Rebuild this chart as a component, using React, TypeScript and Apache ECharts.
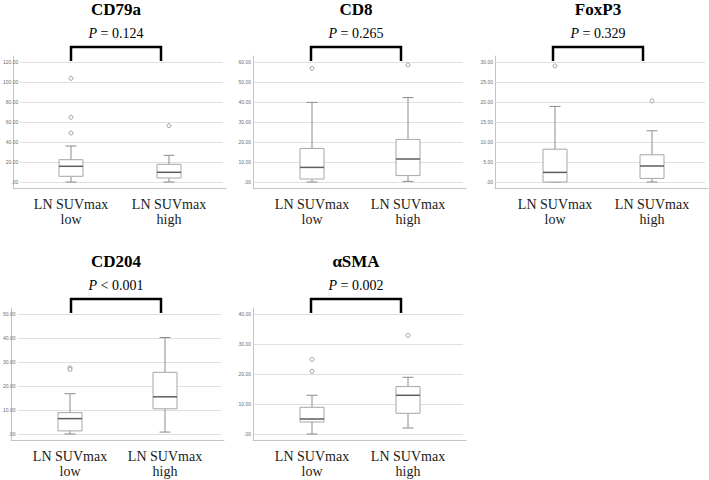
import React, { useEffect, useRef } from 'react';
import * as echarts from 'echarts';

// ---------- data ----------
const categories = ['LN SUVmax\nlow', 'LN SUVmax\nhigh'];
const markers = ['CD79a', 'CD8', 'FoxP3', 'CD204', 'αSMA'];
const pValues = ['= 0.124', '= 0.265', '= 0.329', '< 0.001', '= 0.002'];
const axisMax = [120, 60, 30, 50, 40];
const axisStep = [20, 10, 5, 10, 10];

// [min, Q1, median, Q3, max] for low, high
const cd79aBox = [[0, 5.7, 15.7, 22.3, 36], [0, 4, 9.7, 17.7, 26.7]];
const cd8Box = [[0, 1.5, 7.3, 16.8, 39.8], [0.3, 3.2, 11.5, 21.3, 42.2]];
const foxp3Box = [[0, 0, 2.4, 8.2, 18.9], [0, 0.9, 4, 6.8, 12.8]];
const cd204Box = [[0, 1.3, 6.4, 8.9, 16.8], [0.8, 10.5, 15.5, 25.7, 40.2]];
const asmaBox = [[0, 4, 5, 8.9, 12.9], [2, 6.9, 12.9, 15.8, 18.9]];

// [category index, value]
const cd79aOut = [[0, 49], [0, 64.7], [0, 103.7], [1, 56.3]];
const cd8Out = [[0, 56.8], [1, 58.5]];
const foxp3Out = [[0, 29], [1, 20.3]];
const cd204Out = [[0, 27.6], [0, 26.9]];
const asmaOut = [[0, 20.9], [0, 24.9], [1, 32.9]];

const boxes = [cd79aBox, cd8Box, foxp3Box, cd204Box, asmaBox];
const outliers = [cd79aOut, cd8Out, foxp3Out, cd204Out, asmaOut];

// ---------- layout ----------
const layout = [
  { ox: 0, oy: 0, ax: 13, c1: 71, c2: 169 },
  { ox: 240, oy: 0, ax: 13, c1: 72, c2: 168 },
  { ox: 482, oy: 0, ax: 13, c1: 73, c2: 170 },
  { ox: 0, oy: 252, ax: 11, c1: 70, c2: 165 },
  { ox: 240, oy: 252, ax: 13, c1: 72, c2: 168 },
];

const SERIF = '"Liberation Serif", "Times New Roman", serif';

function buildOption() {
  const grid: any[] = [];
  const xAxis: any[] = [];
  const yAxis: any[] = [];
  const series: any[] = [];
  const graphic: any[] = [];

  markers.forEach((name, i) => {
    const L = layout[i];
    const top = L.oy + 62;
    const gFrame = i * 3, gLines = i * 3 + 1, gData = i * 3 + 2;

    // frame (axis lines)
    grid.push({ left: L.ox + L.ax, top: top - 6, width: 213, height: 132 });
    xAxis.push({
      type: 'value', gridIndex: gFrame, min: 0, max: 1,
      axisLine: { show: true, onZero: false, lineStyle: { color: '#c4c4c4', width: 1 } },
      axisTick: { show: false }, axisLabel: { show: false }, splitLine: { show: false },
    });
    yAxis.push({
      type: 'value', gridIndex: gFrame, min: 0, max: 1,
      axisLine: { show: true, onZero: false, lineStyle: { color: '#c4c4c4', width: 1 } },
      axisTick: { show: false }, axisLabel: { show: false }, splitLine: { show: false },
    });

    // gridlines + tick labels
    grid.push({ left: L.ox + L.ax, top, width: 210, height: 120 });
    xAxis.push({ type: 'value', gridIndex: gLines, min: 0, max: 1, show: false });
    yAxis.push({
      type: 'value', gridIndex: gLines, min: 0, max: axisMax[i], interval: axisStep[i],
      axisLine: { show: false }, axisTick: { show: false },
      splitLine: { show: true, lineStyle: { color: '#e0e0e0', width: 1 } },
      axisLabel: {
        fontSize: 5, color: '#6e6e6e', margin: 2, fontFamily: 'Liberation Sans, Arial, sans-serif',
        formatter: (v: number) => (v === 0 ? '.00' : v.toFixed(2)),
      },
    });

    // data
    const half = (L.c2 - L.c1) / 2;
    grid.push({ left: L.ox + L.c1 - half, top, width: (L.c2 - L.c1) * 2, height: 120 });
    xAxis.push({
      type: 'category', gridIndex: gData, data: categories,
      axisLine: { show: false }, axisTick: { show: false }, splitLine: { show: false },
      axisLabel: {
        interval: 0, fontSize: 14, lineHeight: 15, margin: 15, color: '#1a1a1a', fontFamily: SERIF,
      },
    });
    yAxis.push({ type: 'value', gridIndex: gData, min: 0, max: axisMax[i], show: false });

    series.push({
      type: 'custom', xAxisIndex: gData, yAxisIndex: gData,
      data: boxes[i].map((b, k) => [k, ...b]),
      encode: { x: 0, y: [1, 2, 3, 4, 5] },
      renderItem: (params: any, api: any) => {
        const k = api.value(0);
        const pts = [1, 2, 3, 4, 5].map((d) => api.coord([k, api.value(d)]));
        const x = pts[0][0];
        const bw = 24, cw = 11;
        const wStyle = { stroke: '#8c8c8c', lineWidth: 1 };
        return {
          type: 'group',
          children: [
            { type: 'line', shape: { x1: x, y1: pts[0][1], x2: x, y2: pts[1][1] }, style: wStyle },
            { type: 'line', shape: { x1: x, y1: pts[3][1], x2: x, y2: pts[4][1] }, style: wStyle },
            { type: 'line', shape: { x1: x - cw / 2, y1: pts[0][1], x2: x + cw / 2, y2: pts[0][1] }, style: wStyle },
            { type: 'line', shape: { x1: x - cw / 2, y1: pts[4][1], x2: x + cw / 2, y2: pts[4][1] }, style: wStyle },
            {
              type: 'rect',
              shape: { x: x - bw / 2, y: pts[3][1], width: bw, height: pts[1][1] - pts[3][1] },
              style: { fill: '#ffffff', stroke: '#a6a6a6', lineWidth: 1 },
            },
            {
              type: 'line', shape: { x1: x - bw / 2, y1: pts[2][1], x2: x + bw / 2, y2: pts[2][1] },
              style: { stroke: '#5e5e5e', lineWidth: 1.5 },
            },
          ],
        };
      },
    });

    series.push({
      type: 'scatter', xAxisIndex: gData, yAxisIndex: gData,
      data: outliers[i], symbol: 'circle', symbolSize: 4,
      itemStyle: { color: '#ffffff', borderColor: '#8c8c8c', borderWidth: 1 },
    });

    // titles, p-values, brackets
    const cx = L.ox + 116;
    graphic.push({
      type: 'text', x: cx, y: L.oy + 9,
      style: {
        text: name, textAlign: 'center', textVerticalAlign: 'middle',
        fontWeight: 'bold', fontSize: 17, fontFamily: SERIF, fill: '#000',
      },
    });
    graphic.push({
      type: 'text', x: cx, y: L.oy + 33,
      style: {
        text: '{i|P} ' + pValues[i], textAlign: 'center', textVerticalAlign: 'middle',
        fontSize: 14, fontFamily: SERIF, fill: '#000',
        rich: { i: { fontStyle: 'italic', fontSize: 14, fontFamily: SERIF, fill: '#000' } },
      },
    });
    graphic.push({
      type: 'polyline',
      shape: { points: [[L.ox + 71, L.oy + 61], [L.ox + 71, L.oy + 47], [L.ox + 161, L.oy + 47], [L.ox + 161, L.oy + 61]] },
      style: { stroke: '#000', lineWidth: 2.5, fill: 'none' },
    });
  });

  return { animation: false, backgroundColor: '#ffffff', grid, xAxis, yAxis, series, graphic };
}

export default function App() {
  const ref = useRef<HTMLDivElement>(null);
  useEffect(() => {
    if (!ref.current) return;
    const chart = echarts.init(ref.current, undefined, { renderer: 'svg' });
    chart.setOption(buildOption() as any);
    return () => chart.dispose();
  }, []);
  return (
    <div
      ref={ref}
      style={{ position: 'absolute', left: 0, top: 0, width: 709, height: 480, background: '#fff' }}
    />
  );
}
